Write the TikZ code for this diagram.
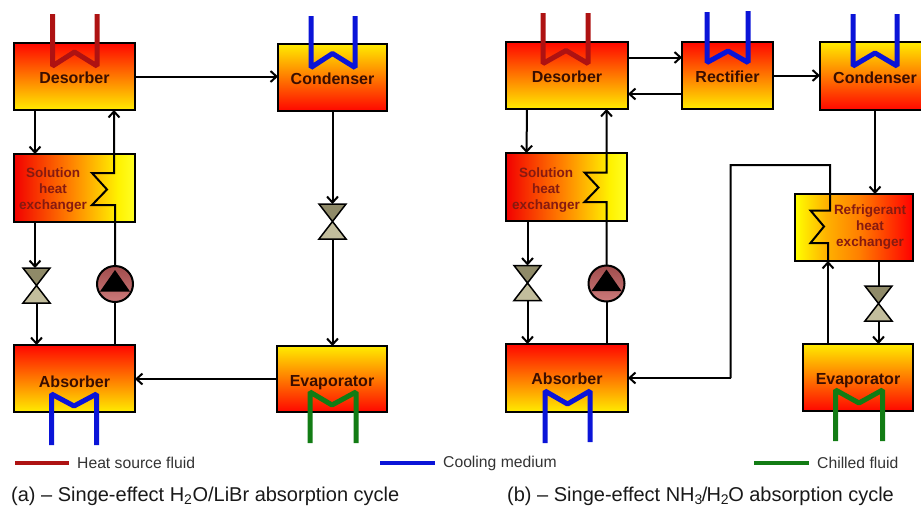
\documentclass[tikz,border=0pt]{standalone}
\usepackage{fontspec}
\setmainfont{Liberation Sans}
\usetikzlibrary{arrows.meta}
\pgfdeclarehorizontalshading{hxright}{100bp}{color(0bp)=(red); color(25bp)=(red!95!black); color(48bp)=(orange); color(68bp)=(yellow!90!orange); color(75bp)=(yellow!85!white); color(100bp)=(yellow!85!white)}
\pgfdeclarehorizontalshading{hxleft}{100bp}{color(0bp)=(yellow); color(25bp)=(yellow); color(38bp)=(orange!60!yellow); color(52bp)=(orange); color(75bp)=(red); color(100bp)=(red)}
\definecolor{hotred}{HTML}{AE1212}
\definecolor{coolblue}{HTML}{0A14D8}
\definecolor{chillgreen}{HTML}{127C14}
\definecolor{labeldark}{HTML}{3A0E00}
\definecolor{labelred}{HTML}{861A10}
\definecolor{valvetop}{HTML}{8F8A68}
\definecolor{valvelow}{HTML}{C2BD9C}
\definecolor{pumpdark}{HTML}{A04C4C}
\definecolor{pumplight}{HTML}{CC7A7A}
\tikzset{
  unit/.style={draw=black,line width=2pt,outer sep=0pt,inner sep=0pt,font=\fontsize{16}{18}\selectfont\bfseries,text=labeldark},
  hottop/.style={unit,top color=red!95!orange,bottom color=yellow!85!orange},
  hotbottom/.style={unit,top color=yellow!85!orange,bottom color=red!95!orange},
  hxtext/.style={inner sep=0pt,align=center,font=\fontsize{13.5}{16}\selectfont\bfseries,text=labelred},
  flow/.style={line width=2pt,-{Straight Barb[length=6pt,width=11pt,line width=2pt]}},
  pipe/.style={line width=2pt},
  coil/.style={line width=5pt,line join=bevel},
  valve/.style={minimum width=27pt,minimum height=35pt,inner sep=0pt,outer sep=0pt},
  pump/.style={circle,draw=black,line width=2pt,minimum size=36pt,inner sep=0pt,outer sep=0pt,top color=pumpdark,bottom color=pumplight},
  keytext/.style={inner sep=0pt,anchor=west,font=\fontsize{15.7}{18}\selectfont,text=black!80},
  captext/.style={inner sep=0pt,anchor=west,font=\fontsize{20}{22}\selectfont,text=black!90}
}
\newcommand{\valvebody}[1]{
  \draw[line width=1.5pt,fill=valvetop] (#1.north west) -- (#1.north east) -- (#1.center) -- cycle;
  \draw[line width=1.5pt,fill=valvelow] (#1.south west) -- (#1.south east) -- (#1.center) -- cycle;
}
\newcommand{\pumpbody}[1]{
  \fill[black] ([yshift=14pt]#1.center) -- ([xshift=15pt,yshift=-7.5pt]#1.center) -- ([xshift=-15pt,yshift=-7.5pt]#1.center) -- cycle;
}
\newcommand{\lowered}[2]{\raisebox{-#1}[\height][0pt]{#2}}

\begin{document}
\begin{tikzpicture}[x=1pt,y=-1pt]
  \useasboundingbox (0,0) rectangle (921,509);

  \node[hottop,minimum width=121pt,minimum height=67pt] (desA) at (74.5,76.5) {\lowered{1pt}{Desorber}};
  \node[hotbottom,minimum width=109pt,minimum height=67pt] (conA) at (332.5,77.5) {\lowered{1pt}{Condenser}};
  \node[unit,shading=hxright,minimum width=121pt,minimum height=68pt] (shxA) at (74.5,188) {};
  \node[hottop,minimum width=121pt,minimum height=67pt] (absA) at (74.5,378.5) {\lowered{3pt}{Absorber}};
  \node[hotbottom,minimum width=110pt,minimum height=66pt] (evaA) at (332,379) {\lowered{2pt}{Evaporator}};
  \node[hxtext] (shxAtext) at (53,190) {Solution\\heat\\exchanger};
  \node[valve] (valA) at (36.5,285.5) {};
  \node[valve] (valC) at (332.5,221.5) {};
  \node[pump] (pumpA) at (115,284) {};
  \valvebody{valA}
  \valvebody{valC}
  \pumpbody{pumpA}

  \node[hottop,minimum width=122pt,minimum height=67pt] (desB) at (567,75.5) {\lowered{1pt}{Desorber}};
  \node[hottop,minimum width=91pt,minimum height=67pt] (recB) at (727.5,75.5) {\lowered{1pt}{Rectifier}};
  \node[hotbottom,minimum width=110pt,minimum height=68pt] (conB) at (875,76) {\lowered{2pt}{Condenser}};
  \node[unit,shading=hxright,minimum width=121pt,minimum height=68pt] (shxB) at (566.5,187) {};
  \node[unit,shading=hxleft,minimum width=118pt,minimum height=67pt] (rhxB) at (854,227.5) {};
  \node[hottop,minimum width=122pt,minimum height=68pt] (absB) at (567,378) {\lowered{1pt}{Absorber}};
  \node[hotbottom,minimum width=110pt,minimum height=67pt] (evaB) at (858,377.5) {\lowered{1pt}{Evaporator}};
  \node[hxtext] (shxBtext) at (546,190) {Solution\\heat\\exchanger};
  \node[hxtext] (rhxBtext) at (870,227) {Refrigerant\\heat\\exchanger};
  \node[valve] (valB) at (527.5,283) {};
  \node[valve] (valD) at (878.5,303.5) {};
  \node[pump] (pumpB) at (606.5,283.5) {};
  \valvebody{valB}
  \valvebody{valD}
  \pumpbody{pumpB}

  \draw[flow] (desA.east) -- (conA.west |- desA.east);
  \draw[flow] (evaA.west) -- (absA.east |- evaA.west);
  \draw[flow] ([xshift=-39.5pt]desA.south) -- ([xshift=-39.5pt]shxA.north);
  \draw[flow] ([xshift=-39.5pt]shxA.south) -- ([xshift=-1.5pt]valA.north);
  \draw[flow] (valA.south) -- (absA.north -| valA);
  \draw[pipe] (absA.north -| pumpA) -- (pumpA.south);
  \draw[flow] (pumpA.north) -- (115,205) -- (92,205) -- (107,189.5) -- (92,173) -- (114,173) -- ([xshift=39.5pt]desA.south);
  \draw[flow] (conA.south) -- (valC.north);
  \draw[flow] (valC.south) -- (evaA.north -| valC);

  \draw[flow] (desB.east |- 0,57.5) -- (recB.west |- 0,57.5);
  \draw[flow] (recB.west |- 0,94) -- (desB.east |- 0,94);
  \draw[flow] (recB.east) -- (conB.west |- recB.east);
  \draw[flow] ([xshift=-40pt]desB.south) -- ([xshift=-40pt]shxB.north);
  \draw[flow] ([xshift=-39pt]shxB.south) -- (valB.north);
  \draw[flow] (valB.south) -- (absB.north -| valB);
  \draw[pipe] (absB.north -| pumpB) -- (pumpB.south);
  \draw[flow] (pumpB.north) -- (606.5,202) -- (584.5,202) -- (598.5,187.5) -- (584.5,172.5) -- (606.5,172.5) -- ([xshift=39.5pt]desB.south);
  \draw[flow] (conB.south) -- (rhxB.north -| conB);
  \draw[pipe] (rhxB.south -| valD) -- (valD.north);
  \draw[flow] (valD.south) -- (evaB.north -| valD);
  \draw[flow] (evaB.north -| 828,0) -- (rhxB.south -| 828,0);
  \draw[pipe] (828,261) -- (828,243) -- (810.5,243) -- (824,226.5) -- (810.5,210.5) -- (830,210.5) -- (830,165) -- (730.5,165) -- (730.5,378);
  \draw[flow] (730.5,378) -- (absB.east);

  \draw[coil,hotred] (52.5,14) -- (52.5,66) -- (74.5,52) -- (97,66) -- (97,14);
  \draw[coil,coolblue] (311,16) -- (311,67.5) -- (332.5,53.5) -- (355,67.5) -- (355,16);
  \draw[coil,coolblue] (51.5,445) -- (51.5,394) -- (74,406) -- (96.5,394) -- (96.5,445);
  \draw[coil,chillgreen] (310,443) -- (310,392) -- (332,405) -- (356,392) -- (356,443);
  \draw[coil,hotred] (543,13) -- (543,63.5) -- (566,50.5) -- (588,63.5) -- (588,13);
  \draw[coil,coolblue] (707,12) -- (707,62.5) -- (728,51) -- (748,62.5) -- (748,11);
  \draw[coil,coolblue] (853,14) -- (853,66) -- (875,53) -- (897,66) -- (897,14);
  \draw[coil,coolblue] (545,443) -- (545,391) -- (567.5,404) -- (590,391) -- (590,442);
  \draw[coil,chillgreen] (835.5,441) -- (835.5,390) -- (859,403) -- (882.5,390) -- (882.5,441);

  \coordinate (keyheat) at (15,463);
  \coordinate (keycool) at (380,463);
  \coordinate (keychill) at (754,463);
  \node[keytext] (heattext) at (77,463) {Heat source fluid};
  \node[keytext] (cooltext) at (443,463) {Cooling medium};
  \node[keytext] (chilltext) at (817,463) {Chilled fluid};
  \draw[line width=4pt,hotred,shorten >=8pt] (keyheat) -- (heattext.west);
  \draw[line width=4pt,coolblue,shorten >=8pt] (keycool) -- (cooltext.west);
  \draw[line width=4pt,chillgreen,shorten >=8pt] (keychill) -- (chilltext.west);

  \node[captext] (capa) at (11,496) {(a) -- Singe-effect H\textsubscript{2}O/LiBr absorption cycle};
  \node[captext] (capb) at (507,496) {(b) -- Singe-effect NH\textsubscript{3}\kern-1pt/\kern-1pt H\textsubscript{2}\kern-1pt O absorption cycle};
\end{tikzpicture}
\end{document}
